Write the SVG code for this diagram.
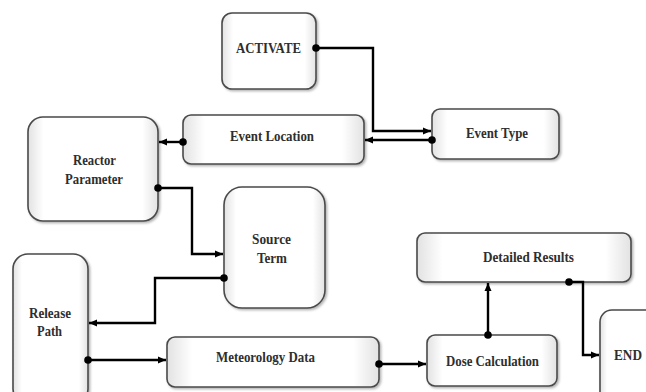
<svg xmlns="http://www.w3.org/2000/svg" width="646" height="392" viewBox="0 0 646 392">
<defs>
<linearGradient id="gh" x1="0" y1="0" x2="1" y2="0">
<stop offset="0" stop-color="#e2e2e2"/><stop offset="0.12" stop-color="#ffffff"/><stop offset="0.88" stop-color="#ffffff"/><stop offset="1" stop-color="#e2e2e2"/>
</linearGradient>
<filter id="sh" x="-10%" y="-10%" width="130%" height="130%">
<feDropShadow dx="1.5" dy="1.5" stdDeviation="1.2" flood-color="#000" flood-opacity="0.3"/>
</filter>
<marker id="ah" markerUnits="userSpaceOnUse" markerWidth="9" markerHeight="8" refX="8" refY="4" orient="auto">
<path d="M0,0.5 L8,4 L0,7.5 z" fill="#000"/>
</marker>
</defs>
<style>
.box{fill:url(#gh);stroke:#4a4a4a;stroke-width:1.6;filter:url(#sh)}
.lbl{font-family:"Liberation Serif","Times New Roman",serif;font-weight:bold;font-size:15px;fill:#2e2e2e;text-anchor:middle}
.c{fill:none;stroke:#000;stroke-width:2.4;marker-end:url(#ah)}
.dot{fill:#000}
</style>
<rect width="646" height="392" fill="#ffffff"/>
<g id="activate"><rect class="box" x="222" y="13" width="94" height="76" rx="10"/><text class="lbl" x="268.5" y="52.5" textLength="65" lengthAdjust="spacingAndGlyphs">ACTIVATE</text></g>
<g id="event-type"><rect class="box" x="432" y="109" width="127" height="50" rx="8"/><text class="lbl" x="497" y="138" textLength="62" lengthAdjust="spacingAndGlyphs">Event Type</text></g>
<g id="event-location"><rect class="box" x="183" y="115" width="181" height="49" rx="8"/><text class="lbl" x="272" y="141" textLength="84" lengthAdjust="spacingAndGlyphs">Event Location</text></g>
<g id="reactor-parameter"><rect class="box" x="28" y="117" width="130" height="104" rx="15"/><text class="lbl" x="94.5" y="165" textLength="43" lengthAdjust="spacingAndGlyphs">Reactor</text><text class="lbl" x="94" y="184" textLength="58" lengthAdjust="spacingAndGlyphs">Parameter</text></g>
<g id="source-term"><rect class="box" x="224" y="187" width="101" height="121" rx="18"/><text class="lbl" x="271.5" y="244" textLength="39" lengthAdjust="spacingAndGlyphs">Source</text><text class="lbl" x="272" y="263" textLength="30" lengthAdjust="spacingAndGlyphs">Term</text></g>
<g id="release-path"><rect class="box" x="13" y="254" width="75" height="150" rx="15"/><text class="lbl" x="50" y="318" textLength="42" lengthAdjust="spacingAndGlyphs">Release</text><text class="lbl" x="49.5" y="336" textLength="25" lengthAdjust="spacingAndGlyphs">Path</text></g>
<g id="meteorology-data"><rect class="box" x="167" y="337" width="212" height="50" rx="8"/><text class="lbl" x="265.5" y="362" textLength="99" lengthAdjust="spacingAndGlyphs">Meteorology Data</text></g>
<g id="dose-calculation"><rect class="box" x="427" y="335" width="130" height="51" rx="8"/><text class="lbl" x="492.5" y="366" textLength="93" lengthAdjust="spacingAndGlyphs">Dose Calculation</text></g>
<g id="detailed-results"><rect class="box" x="417" y="233" width="214" height="49" rx="8"/><text class="lbl" x="528.5" y="262" textLength="91" lengthAdjust="spacingAndGlyphs">Detailed Results</text></g>
<g id="end"><rect class="box" x="600" y="310" width="60" height="100" rx="12"/><text class="lbl" x="628" y="360" textLength="28" lengthAdjust="spacingAndGlyphs">END</text></g>
<g id="connectors">
<path class="c" d="M316,48 H373 V131 H431"/><circle class="dot" cx="316" cy="48" r="3.8"/>
<path class="c" d="M432,140 H365"/><circle class="dot" cx="432" cy="140" r="3.8"/>
<path class="c" d="M183,142 H159"/><circle class="dot" cx="183" cy="142" r="3.8"/>
<path class="c" d="M158,188 H192 V254 H223"/><circle class="dot" cx="158" cy="188" r="3.8"/>
<path class="c" d="M224,278 H155 V323 H89"/><circle class="dot" cx="224" cy="278" r="3.8"/>
<path class="c" d="M88,360 H166"/><circle class="dot" cx="88" cy="360" r="3.8"/>
<path class="c" d="M379,364 H426"/><circle class="dot" cx="379" cy="364" r="3.8"/>
<path class="c" d="M488,335 V283"/><circle class="dot" cx="488" cy="335" r="3.8"/>
<path class="c" d="M569,282 H583 V355 H599"/><circle class="dot" cx="569" cy="282" r="3.8"/>
</g>
</svg>
